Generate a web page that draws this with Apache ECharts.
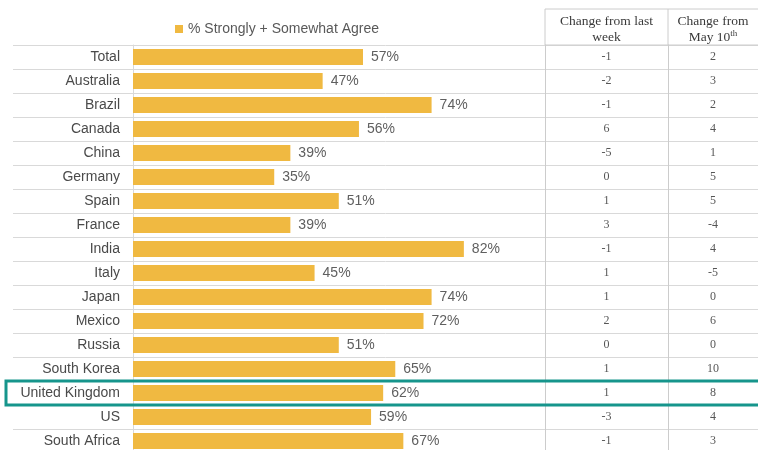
<!DOCTYPE html>
<html>
<head>
<meta charset="utf-8">
<script src="https://cdn.jsdelivr.net/npm/echarts@6/dist/echarts.min.js"></script>
<style>
  html, body { margin: 0; padding: 0; background: #fff; }
  #main { width: 758px; height: 450px; }
</style>
</head>
<body>
<div id="main"></div>
<script>
// 数据
var countries = ['Total', 'Australia', 'Brazil', 'Canada', 'China', 'Germany', 'Spain', 'France',
  'India', 'Italy', 'Japan', 'Mexico', 'Russia', 'South Korea', 'United Kingdom', 'US', 'South Africa'];
var agree = [57, 47, 74, 56, 39, 35, 51, 39, 82, 45, 74, 72, 51, 65, 62, 59, 67];
var changeWeek = [-1, -2, -1, 6, -5, 0, 1, 3, -1, 1, 1, 2, 0, 1, 1, -3, -1];
var changeMay = [2, 3, 2, 4, 1, 5, 5, -4, 4, -5, 0, 6, 0, 10, 8, 4, 3];
var highlight = 'United Kingdom';

var lineColor = '#d9d9d9';
var sans = "'Liberation Sans', Arial, sans-serif";
var serif = "'Liberation Serif', serif";

function cellData(arr) {
  return arr.map(function (v, i) { return [0.5, countries[i], v]; });
}

function catAxis(grid) {
  return {
    type: 'category', gridIndex: grid, data: countries, inverse: true,
    axisLine: { show: false }, axisTick: { show: false }, axisLabel: { show: false },
    splitLine: { show: false }
  };
}

var myChart = echarts.init(document.getElementById('main'));

var yLines = catAxis(0);
yLines.splitLine = { show: true, lineStyle: { color: lineColor, width: 1 } };

var yBars = catAxis(1);
yBars.axisLine = { show: true, lineStyle: { color: lineColor } };
yBars.axisLabel = { show: true, margin: 13, fontSize: 14, color: '#4a4a4a', fontFamily: sans };

var yCol1 = catAxis(2);
yCol1.axisLine = { show: true, lineStyle: { color: '#cccccc' } };
var yCol2 = catAxis(3);
yCol2.axisLine = { show: true, lineStyle: { color: '#cccccc' } };

function headAxis(grid, name) {
  return {
    type: 'value', gridIndex: grid, min: 0, max: 1, position: 'top',
    axisLine: { show: false }, axisTick: { show: false }, axisLabel: { show: false },
    splitLine: { show: false },
    name: name, nameLocation: 'middle', nameGap: 0,
    nameTextStyle: {
      fontSize: 13.5, color: '#3a3a3a', fontFamily: serif, lineHeight: 16,
      rich: { sup: { fontSize: 9, verticalAlign: 'top', color: '#3a3a3a', fontFamily: serif, padding: [0, 0, 6, 0] } }
    }
  };
}

var cellLabel = {
  show: true, position: 'inside', fontSize: 12, color: '#2a2a2a', fontFamily: serif,
  formatter: function (p) { return p.value[2]; }
};

function gridAt(o) {
  o.top = 45;
  o.height = 408;
  o.outerBoundsMode = 'none';
  o.containLabel = false;
  return o;
}

option = {
  animation: false,
  legend: {
    data: ['% Strongly + Somewhat Agree'],
    left: 170, top: 17, icon: 'rect', itemWidth: 8, itemHeight: 8,
    textStyle: { fontSize: 14, color: '#595959', fontFamily: sans }
  },
  grid: [
    gridAt({ left: 13, right: 0 }),
    gridAt({ left: 133, right: 221.5 }),
    gridAt({ left: 545, width: 123 }),
    gridAt({ left: 668, right: 0 })
  ],
  xAxis: [
    { type: 'value', gridIndex: 0, show: false },
    { type: 'value', gridIndex: 1, min: 0, max: 100, show: false },
    headAxis(2, 'Change from last\nweek'),
    headAxis(3, 'Change from\nMay 10{sup|th}')
  ],
  yAxis: [yLines, yBars, yCol1, yCol2],
  series: [
    {
      name: '% Strongly + Somewhat Agree',
      type: 'bar', xAxisIndex: 1, yAxisIndex: 1,
      barWidth: 16,
      itemStyle: { color: '#F0B941' },
      label: {
        show: true, position: 'right', distance: 8, fontSize: 14, color: '#5f5f5f', fontFamily: sans,
        formatter: '{c}%'
      },
      data: agree
    },
    {
      type: 'scatter', xAxisIndex: 2, yAxisIndex: 2, symbolSize: 1,
      itemStyle: { color: 'transparent' }, label: cellLabel, data: cellData(changeWeek)
    },
    {
      type: 'scatter', xAxisIndex: 3, yAxisIndex: 3, symbolSize: 1,
      itemStyle: { color: 'transparent' }, label: cellLabel, data: cellData(changeMay)
    }
  ]
};
myChart.setOption(option);

// 表头边框 + 高亮框
var rowY = myChart.convertToPixel({ yAxisIndex: 1 }, highlight);
myChart.setOption({
  graphic: [
    { type: 'rect', shape: { x: 545, y: 9, width: 240, height: 36 }, style: { fill: 'none', stroke: '#cccccc', lineWidth: 1 } },
    { type: 'line', shape: { x1: 668, y1: 9, x2: 668, y2: 45 }, style: { stroke: '#cccccc', lineWidth: 1 } },
    { type: 'rect', z: 100, shape: { x: 6, y: rowY - 12, width: 770, height: 24 }, style: { fill: 'none', stroke: '#16958c', lineWidth: 3 } }
  ]
});
</script>
</body>
</html>
